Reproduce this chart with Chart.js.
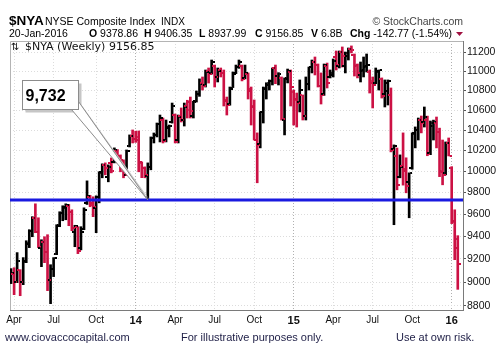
<!DOCTYPE html>
<html><head><meta charset="utf-8">
<script src="https://cdn.jsdelivr.net/npm/chart.js@4/dist/chart.umd.min.js"></script>
<style>html,body{margin:0;padding:0;background:#fff;}canvas{display:block;}</style>
</head><body>
<canvas id="c" width="498" height="356"></canvas>
<script>
// ---- data (weekly OHLC, $NYA, weeks ending 29-Mar-2013 .. 22-Jan-2016) ----
const opens = [
 9040,9070,9000,9100,9000,9180,9330,9450,9570,9440,
 9300,9350,9260,9020,9110,9240,9500,9610,9660,9680,
 9620,9440,9480,9300,9470,9700,9760,9700,9660,9760,
 9990,10060,9950,10080,10090,10200,10150,10100,9970,10240,
 10340,10310,10330,10080,10030,9960,10040,10320,10350,10460,
 10500,10300,10420,10480,10550,10300,10540,10500,10640,10680,
 10540,10690,10760,10880,10860,11000,10980,11060,10940,11010,
 10980,10700,10660,10830,10980,11040,11060,10930,10970,10800,
 10630,10300,10260,10580,10820,10860,10900,11030,10950,10930,
 10500,10930,10990,10780,10700,10680,10750,10540,10870,11040,
 11100,11070,10850,10760,11050,10940,10960,11150,11050,11200,
 11050,11160,11240,11170,11060,10960,11000,11040,10990,10900,
 10880,10990,10920,10760,10790,10754,10220,10150,9950,10050,
 10000,9900,10030,10370,10400,10500,10480,10500,10180,10440,
 10470,10380,10000,9980,10270,10030,9530,9378.86];
const highs = [
 9116,9124,9256,9107,9212,9361,9460,9578,9696,9568,
 9370,9397,9415,9150,9212,9505,9623,9678,9696,9690,
 9641,9500,9487,9487,9659,9910,9775,9761,9770,9996,
 10072,10081,10062,10129,10226,10210,10158,10110,10206,10353,
 10402,10390,10392,10090,10043,10081,10333,10372,10471,10551,
 10521,10501,10451,10672,10561,10551,10622,10672,10700,10733,
 10690,10795,10920,10940,11013,11034,11118,11065,11034,11034,
 11013,10733,10836,10992,11065,11118,11065,11065,10982,10836,
 10703,10373,10582,10836,10880,10909,11034,11065,10985,10940,
 10930,11023,11013,10805,10774,10909,10754,10940,11044,11118,
 11150,11076,10982,11076,11086,11013,11129,11214,11214,11257,
 11203,11246,11268,11182,11076,11097,11150,11182,11013,10940,
 11034,11013,10930,10909,10909,10826,10255,10225,10158,10373,
 10130,9986,10373,10432,10521,10541,10632,10540,10491,10500,
 10531,10420,10303,10284,10323,10045,9641,9406.35];
const lows = [
 8987,8893,8995,8884,8978,9168,9300,9397,9433,9300,
 9133,9168,8927,8817,9047,9238,9487,9541,9550,9496,
 9451,9308,9247,9280,9460,9690,9669,9578,9433,9705,
 9939,9967,9901,9986,10081,10081,9996,9939,9960,10235,
 10274,10280,9996,9940,9939,9732,10015,10274,10333,10284,
 10274,10284,10333,10470,10274,10274,10481,10441,10521,10521,
 10521,10682,10740,10805,10836,10877,10970,10836,10888,10940,
 10642,10551,10650,10830,10975,11030,10899,10920,10713,10451,
 10303,9892,10226,10471,10713,10805,10857,10870,10857,10501,
 10353,10878,10642,10451,10431,10582,10501,10501,10805,10982,
 10961,10836,10662,10750,10826,10930,10940,11013,11034,11044,
 10982,11118,11193,10950,10930,10888,10940,10992,10774,10622,
 10870,10805,10723,10632,10652,10187,9505,9826,9939,9870,
 9798,9568,10020,10226,10303,10373,10431,10150,10160,10303,
 10226,9950,9873,9967,10148,9515,9194,8937.99];
const closes = [
 9080,9000,9185,9004,9170,9340,9450,9570,9440,9308,
 9350,9264,9021,9115,9210,9496,9614,9669,9687,9623,
 9478,9490,9273,9442,9641,9770,9687,9670,9761,9986,
 10060,10034,10045,10005,10206,10150,10110,9967,10196,10343,
 10313,10300,10090,10030,9967,10043,10323,10350,10460,10520,
 10290,10430,10445,10640,10284,10531,10501,10632,10600,10590,
 10680,10760,10870,10850,10990,10970,11095,10940,11000,10980,
 10690,10650,10820,10975,11040,11100,10920,10980,10815,10640,
 10305,10250,10580,10830,10875,10900,11030,10950,10975,10510,
 10920,11000,10837,10713,10672,10805,10541,10867,11040,11097,
 11070,10847,10754,11065,10877,10982,11107,11065,11203,11160,
 11193,11235,11225,11065,10982,11013,11055,11070,10877,10860,
 11000,11010,10740,10880,10895,10206,10240,9873,10043,10020,
 9864,9985,10365,10402,10501,10471,10531,10170,10470,10480,
 10380,9990,9970,10274,10150,9535,9299.62,9156.85];
// month grid positions (week index of first bar of the month) and their labels
const monthTicks  = [1,14,28,41,54,67,80,93,106,119,132,145];
const monthLabels = ['Apr','Jul','Oct','14','Apr','Jul','Oct','15','Apr','Jul','Oct','16'];
const priceTicks  = [8800,9000,9200,9400,9600,9800,10000,10200,10400,10600,10800,11000,11200];
const supportLevel = 9732;
const supportLabel = '9,732';
const supportIndex = 45;
const symbol = '$NYA', indexName = 'NYSE Composite Index', exchange = 'INDX';
const lastDate = '20-Jan-2016', volumeLabel = '6.8B';

// ---- rendering ----
const FONT = '"Liberation Sans", Arial, sans-serif';
const RED = '#cc1144', BLACK = '#000000';
const xMin = -0.35, xMax = 148.72;
const idx = closes.map((_, i) => i);
const colors = idx.map(i => (i === 0 ? closes[0] >= opens[0] : closes[i] >= closes[i - 1]) ? BLACK : RED);

function tickCanvas(color, side) {
  const c = document.createElement('canvas');
  c.width = 6; c.height = 2;
  const g = c.getContext('2d');
  g.fillStyle = color;
  g.fillRect(side === 'left' ? 0 : 4, 0, 2, 2);
  return c;
}
const openBlack = tickCanvas(BLACK, 'left'), openRed = tickCanvas(RED, 'left');
const closeBlack = tickCanvas(BLACK, 'right'), closeRed = tickCanvas(RED, 'right');
const isYear = i => /^\d+$/.test(monthLabels[i] || '');

const frame = {
  id: 'frame',
  beforeDatasetsDraw(chart) {
    const {ctx, chartArea: a} = chart;
    ctx.save();
    ctx.strokeStyle = '#b4b4b4'; ctx.lineWidth = 1;
    ctx.beginPath();
    ctx.moveTo(a.left + 0.5, a.bottom); ctx.lineTo(a.left + 0.5, a.top + 0.5); ctx.lineTo(a.right, a.top + 0.5);
    ctx.stroke();
    ctx.restore();
  }
};

const callout = {
  id: 'callout',
  afterDatasetsDraw(chart) {
    const {ctx, chartArea: a, scales} = chart;
    const tx = scales.x.getPixelForValue(supportIndex), ty = scales.y.getPixelForValue(supportLevel);
    const bx = a.left + 12.5, by = a.top + 39.5, bw = 56, bh = 29;
    ctx.save();
    ctx.fillStyle = '#c6c6c6';
    ctx.fillRect(bx + 3, by + 3, bw, bh);
    ctx.beginPath();
    ctx.moveTo(bx + 49 + 2, by + bh + 2); ctx.lineTo(tx + 2, ty); ctx.lineTo(bx + bw + 2, by + bh - 8 + 2);
    ctx.closePath(); ctx.fill();
    ctx.fillStyle = '#ffffff'; ctx.strokeStyle = '#8c8c8c'; ctx.lineWidth = 1;
    ctx.beginPath();
    ctx.moveTo(bx + 49, by + bh); ctx.lineTo(tx, ty); ctx.lineTo(bx + bw, by + bh - 8);
    ctx.closePath(); ctx.fill(); ctx.stroke();
    ctx.fillRect(bx, by, bw, bh);
    ctx.strokeRect(bx, by, bw, bh);
    ctx.fillStyle = '#000';
    ctx.font = 'bold 16px ' + FONT;
    ctx.textBaseline = 'alphabetic';
    ctx.fillText(supportLabel, bx + 3, by + 20.5);
    ctx.restore();
  }
};

const texts = {
  id: 'texts',
  afterDraw(chart) {
    const ctx = chart.ctx;
    const last = closes.length - 1;
    const chg = closes[last] - closes[last - 1];
    const pct = chg / closes[last - 1] * 100;
    ctx.save();
    ctx.textBaseline = 'alphabetic';
    ctx.fillStyle = '#000';
    ctx.font = 'bold 13.5px ' + FONT; ctx.fillText(symbol, 9, 25);
    ctx.font = '10.5px ' + FONT; ctx.fillText(indexName, 45, 25);
    ctx.font = '10px ' + FONT; ctx.fillText(exchange, 161, 25);
    ctx.textAlign = 'right'; ctx.fillStyle = '#444';
    ctx.font = '10.5px ' + FONT; ctx.fillText('\u00A9 StockCharts.com', 463, 25);
    ctx.textAlign = 'left'; ctx.fillStyle = '#000';
    ctx.font = '10.5px ' + FONT; ctx.fillText(lastDate, 9, 37);
    const segs = [
      ['O', opens[last].toFixed(2), 89], ['H', highs[last].toFixed(2), 144],
      ['L', lows[last].toFixed(2), 199], ['C', closes[last].toFixed(2), 255],
      ['V', volumeLabel, 311],
      ['Chg', chg.toFixed(2) + ' (' + pct.toFixed(2) + '%)', 350]];
    segs.forEach(([k, v, x]) => {
      ctx.font = 'bold 10.5px ' + FONT; ctx.fillText(k, x, 37);
      const w = ctx.measureText(k).width;
      ctx.font = '10.5px ' + FONT; ctx.fillText(' ' + v, x + w, 37);
    });
    ctx.fillStyle = '#a01040';
    ctx.beginPath(); ctx.moveTo(456, 32); ctx.lineTo(463, 32); ctx.lineTo(459.5, 36); ctx.closePath(); ctx.fill();
    ctx.fillStyle = '#111';
    ctx.font = '10px "DejaVu Sans", sans-serif'; ctx.fillText('\u21C5', 11, 49.5);
    ctx.font = '11px "DejaVu Sans", sans-serif';
    ctx.fillText(symbol + ' (Weekly) ' + closes[last].toFixed(2), 25, 49.5);
    ctx.fillStyle = '#1e1e46';
    ctx.font = '11px ' + FONT;
    ctx.fillText('www.ciovaccocapital.com', 5, 341);
    ctx.fillText('For illustrative purposes only.', 181, 341);
    ctx.fillText('Use at own risk.', 396, 341);
    ctx.restore();
  }
};

new Chart(document.getElementById('c'), {
  type: 'bar',
  data: {
    datasets: [
      { type: 'line', label: 'support', data: [{x: xMin, y: supportLevel}, {x: xMax, y: supportLevel}],
        borderColor: '#1a1ae0', borderWidth: 3, pointRadius: 0, order: 0 },
      { type: 'scatter', label: 'open', data: idx.map(i => ({x: i, y: opens[i]})),
        pointStyle: idx.map(i => colors[i] === BLACK ? openBlack : openRed), pointRadius: 2, order: 1 },
      { type: 'scatter', label: 'close', data: idx.map(i => ({x: i, y: closes[i]})),
        pointStyle: idx.map(i => colors[i] === BLACK ? closeBlack : closeRed), pointRadius: 2, order: 1 },
      { type: 'bar', label: 'range', data: idx.map(i => ({x: i, y: [lows[i], highs[i]]})),
        backgroundColor: colors, barThickness: 2, borderWidth: 0, borderSkipped: false, order: 2 }
    ]
  },
  options: {
    responsive: false, animation: false, devicePixelRatio: 1, events: [],
    layout: {padding: {left: 10, right: 0, top: 41, bottom: 26}},
    plugins: {legend: {display: false}, tooltip: {enabled: false}},
    scales: {
      x: {
        type: 'linear', min: xMin, max: xMax, offset: false,
        afterBuildTicks: s => { s.ticks = monthTicks.map(v => ({value: v})); },
        afterFit: s => { s.height = 20; s.paddingLeft = 0; s.paddingRight = 0; },
        ticks: {
          autoSkip: false, maxRotation: 0, minRotation: 0, padding: 4, color: '#111',
          callback: (v, i) => monthLabels[i],
          font: c => ({family: FONT, size: isYear(c.index) ? 11 : 10, weight: isYear(c.index) ? 'bold' : 'normal'})
        },
        grid: {offset: false, drawTicks: false, color: c => isYear(c.index) ? '#b0b0b0' : '#dcdcdc'},
        border: {display: true, color: '#7a7a7a', dash: [1, 2]}
      },
      y: {
        type: 'logarithmic', position: 'right', min: 8764, max: 11321,
        afterBuildTicks: s => { s.ticks = priceTicks.map(v => ({value: v})); },
        afterFit: s => { s.width = 35; s.paddingTop = 0; s.paddingBottom = 0; },
        ticks: {callback: v => String(v), padding: 1, color: '#111', font: {family: FONT, size: 10.5}},
        grid: {color: '#dcdcdc', tickLength: 3, tickColor: '#555'},
        border: {display: true, color: '#7a7a7a', dash: [1, 2]}
      }
    }
  },
  plugins: [frame, callout, texts]
});
</script>
</body></html>
